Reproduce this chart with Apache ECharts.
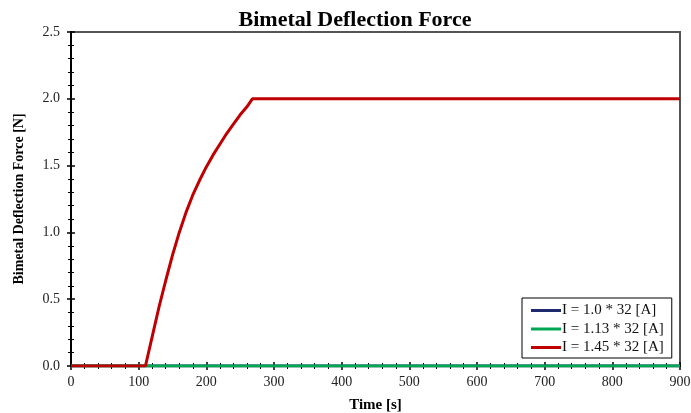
<!DOCTYPE html>
<html>
<head>
<meta charset="utf-8">
<script src="https://cdn.jsdelivr.net/npm/echarts@6/dist/echarts.min.js"></script>
<style>
  html, body { margin: 0; padding: 0; background: #fff; }
  #chart { width: 691px; height: 413px; }
</style>
</head>
<body>
<div id="chart"></div>
<script>
// series data
var seriesNames = ['I = 1.0 * 32 [A]', 'I = 1.13 * 32 [A]', 'I = 1.45 * 32 [A]'];
var seriesColors = ['#1f2a6e', '#00a651', '#c00000'];

var time10 = [0, 900];
var force10 = [0, 0];

var time113 = [0, 900];
var force113 = [0, 0];

var time145 = [0, 110, 120, 130, 140, 150, 160, 170, 180, 190, 200, 210, 220, 230, 240, 250, 260, 268, 900];
var force145 = [0, 0, 0.22, 0.44, 0.64, 0.83, 1.00, 1.15, 1.28, 1.39, 1.49, 1.58, 1.66, 1.74, 1.81, 1.88, 1.94, 2.0, 2.0];

function pairs(xs, ys) {
  return xs.map(function (x, i) { return [x, ys[i]]; });
}

var font = '"Liberation Serif", "Times New Roman", serif';
var chart = echarts.init(document.getElementById('chart'));

var xBase = {
  type: 'value', min: 0, max: 900, interval: 100,
  axisLine: { show: true, onZero: false, lineStyle: { color: '#000', width: 2 } },
  splitLine: { show: false }
};
var yBase = {
  type: 'value', min: 0, max: 2.5, interval: 0.5,
  axisLine: { show: true, lineStyle: { color: '#000', width: 2 } },
  splitLine: { show: false }
};

var option = {
  animation: false,
  title: {
    text: 'Bimetal Deflection Force',
    left: 350, top: 4, textAlign: 'center',
    textStyle: { fontFamily: font, fontSize: 22, fontWeight: 'bold', color: '#000' }
  },
  grid: {
    left: 71, right: 11, top: 32, bottom: 47,
    outerBoundsMode: 'none', containLabel: false,
    show: true, borderColor: '#555', borderWidth: 2, backgroundColor: 'transparent'
  },
  legend: {
    orient: 'vertical',
    left: 522, top: 298,
    data: seriesNames,
    icon: 'rect',
    itemWidth: 30, itemHeight: 3, itemGap: 3.5,
    padding: [5, 8, 3, 9],
    borderColor: '#000', borderWidth: 1, backgroundColor: '#fff',
    textStyle: { fontFamily: font, fontSize: 15, lineHeight: 15, color: '#111', padding: [0, 0, 0, -4] }
  },
  xAxis: [
    Object.assign({}, xBase, {
      name: 'Time [s]', nameLocation: 'middle', nameGap: 32,
      nameTextStyle: { fontFamily: font, fontSize: 15, fontWeight: 'bold', color: '#000' },
      axisTick: { show: true, inside: false, length: 4, lineStyle: { color: '#000', width: 1.5 } },
      minorTick: { show: true, splitNumber: 5, length: 3, lineStyle: { color: '#000' } },
      axisLabel: { fontFamily: font, fontSize: 14, color: '#222', margin: 9 }
    }),
    Object.assign({}, xBase, {
      position: 'bottom',
      axisTick: { show: true, inside: true, length: 4, lineStyle: { color: '#000', width: 1.5 } },
      minorTick: { show: true, splitNumber: 5, length: 3, lineStyle: { color: '#000' } },
      axisLabel: { show: false }
    })
  ],
  yAxis: [
    Object.assign({}, yBase, {
      name: 'Bimetal Deflection Force [N]', nameLocation: 'middle', nameGap: 45,
      nameTextStyle: { fontFamily: font, fontSize: 14, fontWeight: 'bold', color: '#000' },
      axisTick: { show: true, inside: false, length: 4, lineStyle: { color: '#000', width: 1.5 } },
      minorTick: { show: true, splitNumber: 5, length: 3, lineStyle: { color: '#000' } },
      axisLabel: {
        fontFamily: font, fontSize: 14, color: '#222', margin: 11,
        formatter: function (v) { return v.toFixed(1); }
      }
    }),
    Object.assign({}, yBase, {
      position: 'left',
      axisTick: { show: true, inside: true, length: 4, lineStyle: { color: '#000', width: 1.5 } },
      minorTick: { show: true, splitNumber: 5, length: 3, lineStyle: { color: '#000' } },
      axisLabel: { show: false }
    })
  ],
  series: [
    {
      name: seriesNames[0], type: 'line', symbol: 'none',
      data: pairs(time10, force10),
      lineStyle: { color: seriesColors[0], width: 3 }, itemStyle: { color: seriesColors[0] }
    },
    {
      name: seriesNames[1], type: 'line', symbol: 'none',
      data: pairs(time113, force113),
      lineStyle: { color: seriesColors[1], width: 3 }, itemStyle: { color: seriesColors[1] }
    },
    {
      name: seriesNames[2], type: 'line', symbol: 'none',
      data: pairs(time145, force145),
      lineStyle: { color: seriesColors[2], width: 3 }, itemStyle: { color: seriesColors[2] }
    }
  ]
};

chart.setOption(option);
</script>
</body>
</html>
